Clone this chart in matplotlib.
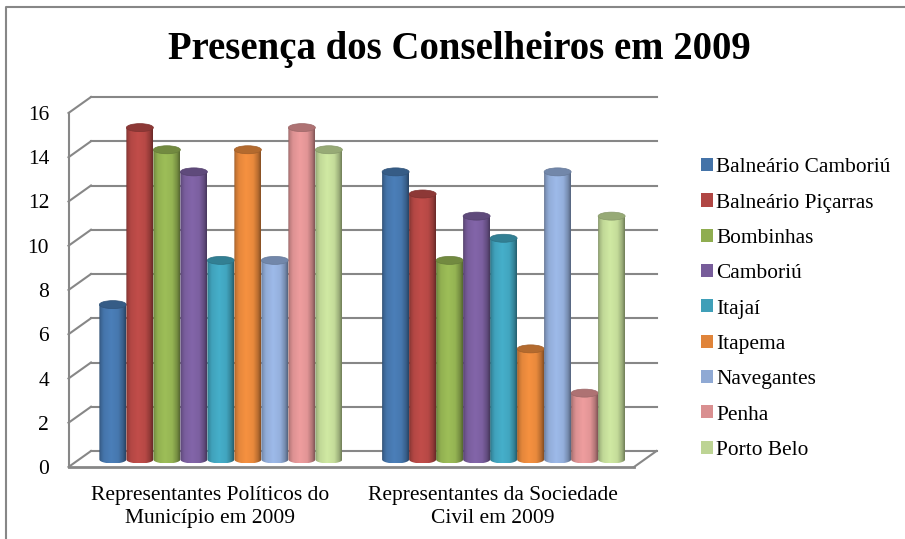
import numpy as np
import matplotlib
matplotlib.use('Agg')
import matplotlib.pyplot as plt
from matplotlib.lines import Line2D
from matplotlib.patches import Ellipse, PathPatch, Patch
from matplotlib.path import Path
from matplotlib.transforms import offset_copy
from matplotlib.colors import to_rgb

plt.rcParams['font.family'] = ['Liberation Serif', 'DejaVu Serif']

title = 'Presença dos Conselheiros em 2009'
categories = ['Representantes Políticos do\nMunicípio em 2009',
              'Representantes da Sociedade\nCivil em 2009']
cities = ['Balneário Camboriú', 'Balneário Piçarras', 'Bombinhas', 'Camboriú',
          'Itajaí', 'Itapema', 'Navegantes', 'Penha', 'Porto Belo']
politicos = [7, 15, 14, 13, 9, 14, 9, 15, 14]
sociedade = [13, 12, 9, 11, 10, 5, 13, 3, 11]
colors = ['#4473a8', '#b04643', '#8fad50', '#775c9a', '#3f9fb8',
          '#e0843a', '#8fa9d4', '#d98f90', '#bdd494']
yticks = list(range(0, 17, 2))

W, H = 905, 539
GRAY = '#878787'

fig = plt.figure(figsize=(W / 100, H / 100), dpi=100)
ax = fig.add_axes([68.5 / W, (H - 467) / H, (634 - 68.5) / W, (467 - 113) / H])
ax.set_xlim(-0.5, 1.5)
ax.set_ylim(0, 16)
for s in ax.spines.values():
    s.set_visible(False)

ax.set_xticks([0, 1], categories, fontsize=15.5, linespacing=1.32)
ax.set_yticks(yticks, [str(v) for v in yticks], fontsize=15.5)
ax.tick_params(length=0)
ax.tick_params(axis='x', pad=13.5)
ax.tick_params(axis='y', pad=14)

back = offset_copy(ax.transData, fig=fig, x=22.5, y=16, units='dots')
mid = offset_copy(ax.transData, fig=fig, x=11, y=7.5, units='dots')

# walls and floor
for v in yticks:
    ax.plot([-0.5, 1.5], [v, v], color=GRAY, lw=1.5, transform=back, clip_on=False, zorder=1)
    ax.plot([-0.5, -0.5 + 22.5 / 282.75], [v, v + 16 / 22.125], color=GRAY, lw=1.5,
            clip_on=False, zorder=1)
ax.plot([1.5, 1.5 + 22.5 / 282.75], [0, 16 / 22.125], color=GRAY, lw=1.5, clip_on=False, zorder=1)
ax.plot([-0.5, 1.5], [0, 0], color=GRAY, lw=2, clip_on=False, zorder=1)
ax.plot([-0.5, -0.5], [0, 16], color=GRAY, lw=1.5, clip_on=False, zorder=1)

# cylinders, gradient clipped to the outline
w = 27 / 282.75
ry = 4 / 22.125
shade_x = [0, 0.05, 0.18, 0.45, 0.72, 0.9, 1]
shade_y = [0.66, 0.86, 1.02, 1.1, 1.04, 0.82, 0.6]
shade = np.interp(np.linspace(0, 1, 54), shade_x, shade_y)
z = 2
for g, values in enumerate([politicos, sociedade]):
    for k, v in enumerate(values):
        x = g + (k - 4) * w
        c = np.array(to_rgb(colors[k]))
        grad = np.clip(shade[None, :, None] * c[None, None, :], 0, 1)
        im = ax.imshow(grad, extent=[x - w / 2, x + w / 2, -ry, v], aspect='auto',
                       transform=mid, zorder=z, interpolation='bilinear')
        t = np.linspace(np.pi, 2 * np.pi, 30)
        low = np.c_[x + w / 2 * np.cos(t), ry * np.sin(t)]
        outline = np.vstack([low, [[x + w / 2, v], [x - w / 2, v]], low[:1]])
        clip = PathPatch(Path(outline), transform=mid, fc='none', ec='none')
        ax.add_patch(clip)
        im.set_clip_path(clip)
        ax.add_patch(Ellipse((x, v), w, 2 * ry, fc=c * 0.8, ec=c * 0.72, lw=0.5,
                             transform=mid, zorder=z + 1))
        z += 2
ax.set_xlim(-0.5, 1.5)
ax.set_ylim(0, 16)

handles = [Patch(fc=c, ec='none', label=n) for c, n in zip(colors, cities)]
ax.legend(handles=handles, loc='center left', bbox_to_anchor=(701 / W, (H - 309) / H),
          bbox_transform=fig.transFigure, frameon=False, fontsize=15.4, ncols=1,
          handlelength=0.56, handleheight=0.56, handletextpad=0.15, labelspacing=0.76,
          borderpad=0, borderaxespad=0)

fig.text(459 / W, (H - 49) / H, title, ha='center', va='center', fontsize=27.9, fontweight='bold')

# chart border
fig.add_artist(Line2D([6 / W, 6 / W, 1], [0, (H - 6.5) / H, (H - 6.5) / H], color=GRAY, lw=1.5))

fig.savefig('out.png', dpi=100)
